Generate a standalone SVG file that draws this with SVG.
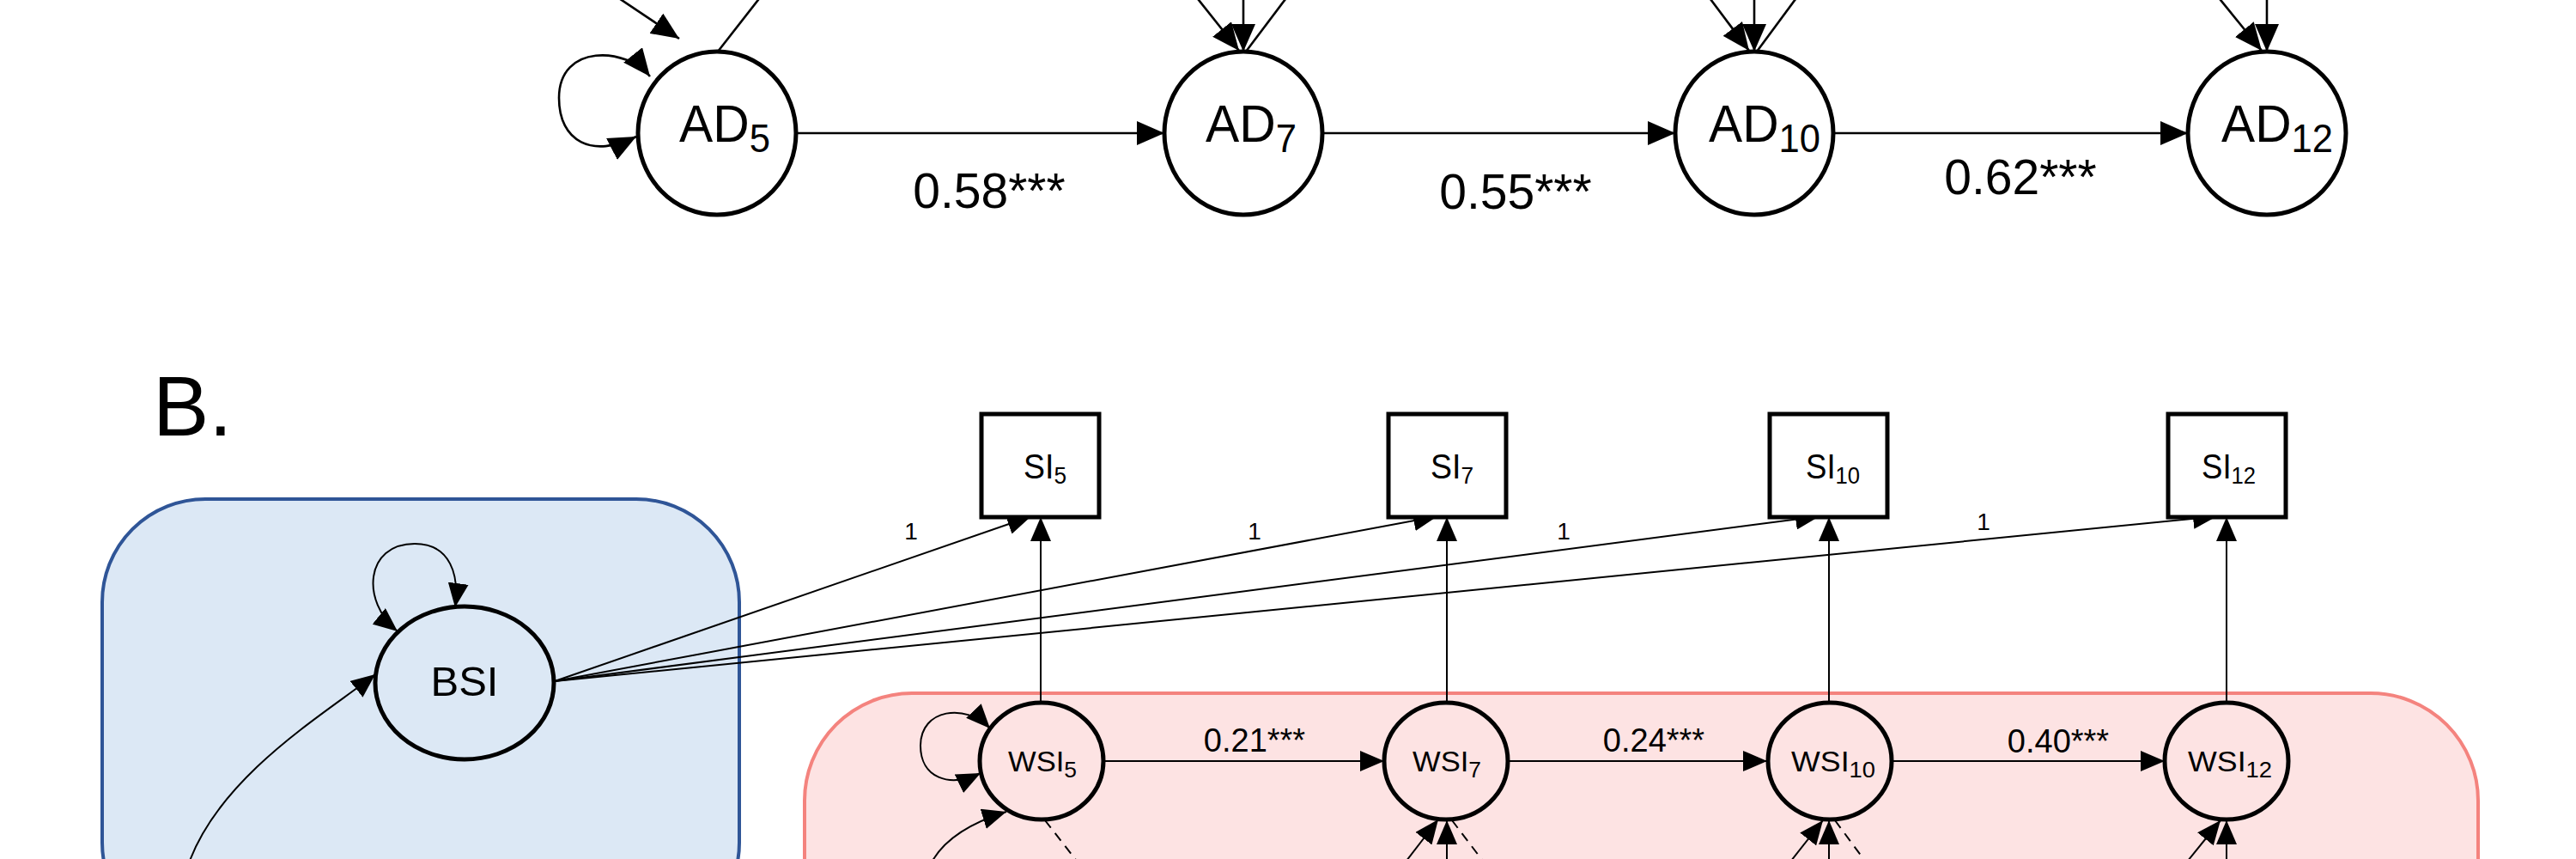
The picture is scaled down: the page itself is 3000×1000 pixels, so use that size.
<svg xmlns="http://www.w3.org/2000/svg" width="3000" height="1000" viewBox="0 0 3000 1000">
<style>
text { font-family: "Liberation Sans", Arial, Helvetica, sans-serif; fill: #000; }
.mid { text-anchor: middle; }
.node { fill: #fff; stroke: #000; stroke-width: 5; }
.nodeT { fill: none; stroke: #000; stroke-width: 5; }
.ct { fill: none; stroke: #000; stroke-width: 2.6; }
.c { fill: none; stroke: #000; stroke-width: 2; }
.dash { stroke-dasharray: 11 8; }
.big { marker-end: url(#ahA); }
.sm { marker-end: url(#ahB); }
</style>
<defs>
<marker id="ahA" markerUnits="userSpaceOnUse" viewBox="0 0 32 28" markerWidth="32" markerHeight="28" refX="32" refY="14" orient="auto-start-reverse">
<path d="M0,0 L32,14 L0,28 z" fill="#000"/>
</marker>
<marker id="ahB" markerUnits="userSpaceOnUse" viewBox="0 0 28 24" markerWidth="28" markerHeight="24" refX="28" refY="12" orient="auto-start-reverse">
<path d="M0,0 L28,12 L0,24 z" fill="#000"/>
</marker>
</defs>
<rect width="3000" height="1000" fill="#fff"/>

<g id="group-between">
<rect x="119" y="581" width="742" height="520" rx="120" ry="120" fill="#DCE8F5" stroke="#2F5597" stroke-width="4"/>
</g>
<g id="group-within">
<rect x="937" y="807" width="1949" height="320" rx="125" ry="125" fill="#FDE3E3" stroke="#F4837E" stroke-width="4"/>
</g>

<text x="178" y="507" font-size="98">B.</text>

<g id="connectors">
<path class="ct big" d="M694,-20 L791,45"/>
<path class="ct" d="M836,60 L886,-4"/>
<path class="ct big" d="M1392,-5 L1443,59"/>
<path class="ct big" d="M1448,-5 L1448,60"/>
<path class="ct" d="M1451,60 L1500,-5"/>
<path class="ct big" d="M1989,-5 L2037,59"/>
<path class="ct big" d="M2043,-5 L2043,60"/>
<path class="ct" d="M2046,60 L2094,-5"/>
<path class="ct big" d="M2582,-5 L2634,59"/>
<path class="ct big" d="M2640,-5 L2640,60"/>
<path class="ct" d="M757,89 C730,55 651,50 651,114 C651,165 690,185 741,159" marker-start="url(#ahA)" marker-end="url(#ahA)"/>
<path class="ct big" d="M927,155 L1356,155"/>
<path class="ct big" d="M1540,155 L1951,155"/>
<path class="ct big" d="M2135,155 L2548,155"/>

<path class="c" d="M463,735 C420,700 425,633 483,633 C525,633 535,670 530,707" marker-start="url(#ahB)" marker-end="url(#ahB)"/>
<path class="c sm" d="M221,1002 C260,900 380,830 437,785"/>
<path class="c sm" d="M646,793 L1201,601"/>
<path class="c sm" d="M646,793 L1674,601"/>
<path class="c sm" d="M646,793 L2119,601"/>
<path class="c sm" d="M646,793 L2582,601"/>
<path class="c sm" d="M1212,818 L1212,602"/>
<path class="c sm" d="M1685,818 L1685,602"/>
<path class="c sm" d="M2130,818 L2130,602"/>
<path class="c sm" d="M2593,818 L2593,602"/>
<path class="c sm" d="M1285,886 L1612,886"/>
<path class="c sm" d="M1757,886 L2058,886"/>
<path class="c sm" d="M2203,886 L2521,886"/>
<path class="c" d="M1153,848 C1125,818 1072,825 1072,868 C1072,905 1105,918 1142,900" marker-start="url(#ahB)" marker-end="url(#ahB)"/>
<path class="c sm" d="M1086,1002 C1100,978 1130,958 1172,945"/>
<path class="c dash" d="M1217,955 L1256,1005"/>
<path class="c sm" d="M1638,1002 L1675,954"/>
<path class="c sm" d="M1685,1005 L1685,955"/>
<path class="c dash" d="M1691,955 L1729,1005"/>
<path class="c sm" d="M2086,1002 L2123,955"/>
<path class="c sm" d="M2130,1005 L2130,955"/>
<path class="c dash" d="M2137,955 L2174,1005"/>
<path class="c sm" d="M2548,1002 L2586,955"/>
<path class="c sm" d="M2593,1005 L2593,955"/>
</g>

<g id="edge-labels">
<text class="mid" x="1152" y="242" font-size="57">0.58***</text>
<text class="mid" x="1765" y="243" font-size="57">0.55***</text>
<text class="mid" x="2353" y="226" font-size="57">0.62***</text>
<text class="mid" x="1061" y="628" font-size="28">1</text>
<text class="mid" x="1461" y="628" font-size="28">1</text>
<text class="mid" x="1821" y="628" font-size="28">1</text>
<text class="mid" x="2310" y="617" font-size="28">1</text>
<text class="mid" x="1461" y="875" font-size="38">0.21***</text>
<text class="mid" x="1926" y="875" font-size="38">0.24***</text>
<text class="mid" x="2397" y="876" font-size="38">0.40***</text>
</g>

<g id="AD5"><ellipse class="node" cx="835" cy="155" rx="92" ry="95"/><text x="791" y="165" font-size="62" textLength="106" lengthAdjust="spacingAndGlyphs">AD<tspan font-size="46" dy="12">5</tspan></text></g>
<g id="AD7"><ellipse class="node" cx="1448" cy="155" rx="92" ry="95"/><text x="1404" y="165" font-size="62" textLength="106" lengthAdjust="spacingAndGlyphs">AD<tspan font-size="46" dy="12">7</tspan></text></g>
<g id="AD10"><ellipse class="node" cx="2043" cy="155" rx="92" ry="95"/><text x="1990" y="165" font-size="62" textLength="130" lengthAdjust="spacingAndGlyphs">AD<tspan font-size="46" dy="12">10</tspan></text></g>
<g id="AD12"><ellipse class="node" cx="2640" cy="155" rx="92" ry="95"/><text x="2587" y="165" font-size="62" textLength="130" lengthAdjust="spacingAndGlyphs">AD<tspan font-size="46" dy="12">12</tspan></text></g>

<g id="BSI"><ellipse class="nodeT" cx="541" cy="795" rx="104" ry="89"/><text class="mid" x="541" y="810" font-size="49">BSI</text></g>

<g id="SI5"><rect class="node" x="1143" y="482" width="137" height="120"/><text x="1192" y="557" font-size="40" textLength="50" lengthAdjust="spacingAndGlyphs">SI<tspan font-size="28" dy="6">5</tspan></text></g>
<g id="SI7"><rect class="node" x="1617" y="482" width="137" height="120"/><text x="1666" y="557" font-size="40" textLength="50" lengthAdjust="spacingAndGlyphs">SI<tspan font-size="28" dy="6">7</tspan></text></g>
<g id="SI10"><rect class="node" x="2061" y="482" width="137" height="120"/><text x="2103" y="557" font-size="40" textLength="63" lengthAdjust="spacingAndGlyphs">SI<tspan font-size="28" dy="6">10</tspan></text></g>
<g id="SI12"><rect class="node" x="2525" y="482" width="137" height="120"/><text x="2564" y="557" font-size="40" textLength="63" lengthAdjust="spacingAndGlyphs">SI<tspan font-size="28" dy="6">12</tspan></text></g>

<g id="WSI5"><ellipse class="nodeT" cx="1213" cy="886" rx="72" ry="68"/><text x="1174" y="898" font-size="34" textLength="80" lengthAdjust="spacingAndGlyphs">WSI<tspan font-size="26" dy="7">5</tspan></text></g>
<g id="WSI7"><ellipse class="nodeT" cx="1684" cy="886" rx="72" ry="68"/><text x="1645" y="898" font-size="34" textLength="80" lengthAdjust="spacingAndGlyphs">WSI<tspan font-size="26" dy="7">7</tspan></text></g>
<g id="WSI10"><ellipse class="nodeT" cx="2131" cy="886" rx="72" ry="68"/><text x="2086" y="898" font-size="34" textLength="98" lengthAdjust="spacingAndGlyphs">WSI<tspan font-size="26" dy="7">10</tspan></text></g>
<g id="WSI12"><ellipse class="nodeT" cx="2593" cy="886" rx="72" ry="68"/><text x="2548" y="898" font-size="34" textLength="98" lengthAdjust="spacingAndGlyphs">WSI<tspan font-size="26" dy="7">12</tspan></text></g>
</svg>
